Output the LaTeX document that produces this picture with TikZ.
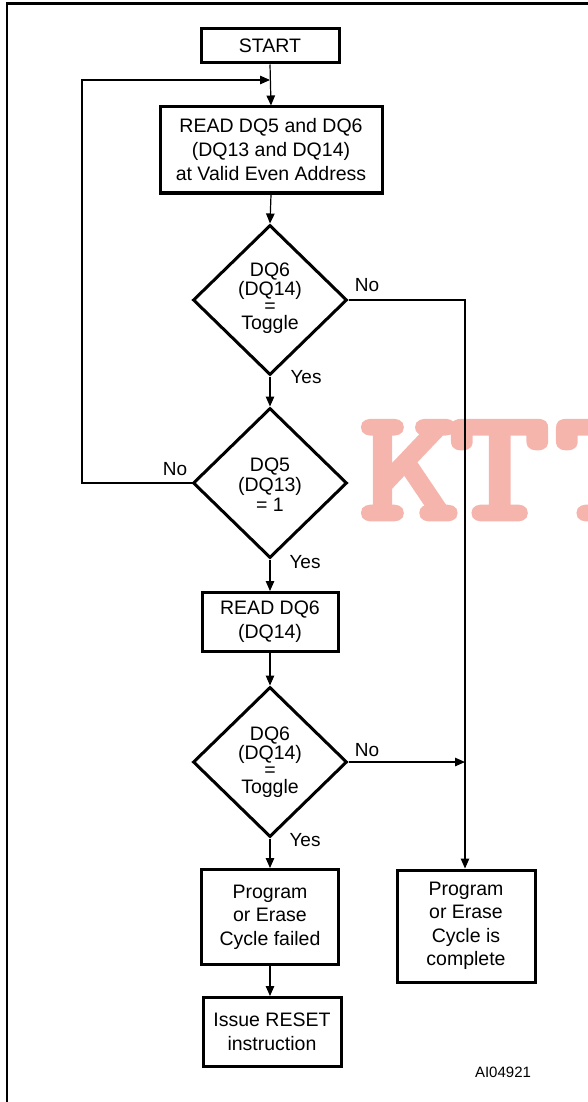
\documentclass[tikz,border=0pt]{standalone}
\usepackage{fontspec}
\setmainfont{Liberation Sans}
\newfontfamily\wmfont{lmmonolt10-bold.otf}[FakeBold=3]
\usetikzlibrary{shapes.geometric,arrows.meta}
\definecolor{wmpink}{HTML}{F5B5AD}
\tikzset{
  boxnode/.style={draw,line width=3pt,align=center,inner sep=0pt,font=\fontsize{19.5}{24}\selectfont},
  decnode/.style={draw,diamond,line width=3pt,inner sep=0pt,minimum width=154pt,minimum height=150pt},
  dectext/.style={align=center,inner sep=0pt,font=\fontsize{19.5}{17}\selectfont},
  conn/.style={line width=1.2pt},
  arr/.style={conn,-{Triangle[length=10pt,width=8.5pt]}},
  lbl/.style={inner sep=0pt,font=\fontsize{19}{22}\selectfont},
  wmark/.style={anchor=base west,inner sep=0pt,text=wmpink,xscale=1.2,transform shape,font=\wmfont\fontsize{160}{160}\selectfont},
}
\begin{document}
\begin{tikzpicture}[x=1pt,y=-1pt]
\useasboundingbox (0,0) rectangle (588,1102);
% watermark
\begin{scope}
\clip (0,0) rectangle (588,1102);
\node[wmark] (wmk) at (359,519) {K};
\node[wmark] (wmt) at (449,519) {T};
\node[wmark] (wmt2) at (554,519) {T};
\end{scope}
% frame
\draw[line width=2.5pt] (7,1110) -- (7,3.5) -- (600,3.5);
% nodes
\node[boxnode,minimum width=138pt,minimum height=34pt] (start) at (270,46) {START};
\node[boxnode,minimum width=222pt,minimum height=86pt] (read1) at (271,150) {READ DQ5 and DQ6\\(DQ13 and DQ14)\\at Valid Even Address};
\node[decnode] (d1) at (270,300) {};
\node[dectext] (t1) at (270,298) {DQ6\\(DQ14)\\=\\Toggle};
\node[decnode] (d2) at (270,483) {};
\node[dectext,font=\fontsize{19.5}{20}\selectfont] (t2) at (270,485) {DQ5\\(DQ13)\\= 1};
\node[boxnode,minimum width=136pt,minimum height=59pt] (read2) at (270,622) {READ DQ6\\(DQ14)};
\node[decnode] (d3) at (270,762) {};
\node[dectext] (t3) at (270,762) {DQ6\\(DQ14)\\=\\Toggle};
\node[boxnode,minimum width=137pt,minimum height=95pt,font=\fontsize{19.5}{23.5}\selectfont] (fail) at (270,917) {Program\\or Erase\\Cycle failed};
\node[boxnode,minimum width=138pt,minimum height=112pt,font=\fontsize{19.5}{23.5}\selectfont] (done) at (466,926) {Program\\or Erase\\Cycle is\\complete};
\node[boxnode,minimum width=138pt,minimum height=69pt,font=\fontsize{19.5}{23.5}\selectfont] (reset) at (272,1032) {Issue RESET\\instruction};
\node[inner sep=0pt,font=\fontsize{15}{18}\selectfont] (code) at (503,1072) {AI04921};
% labels
\node[lbl] (n1) at (367,285) {No};
\node[lbl] (y1) at (306,377) {Yes};
\node[lbl] (n2) at (175,469) {No};
\node[lbl] (y2) at (305,562) {Yes};
\node[lbl] (n3) at (367,750) {No};
\node[lbl] (y3) at (305,840) {Yes};
% coordinates
\coordinate (loopL) at (82,80);
\coordinate (loopR) at (270,80);
\coordinate (rtop) at (465,300);
\coordinate (rmid) at (465,762);
% connectors
\draw[arr] (start.south) -- (read1.north);
\draw[arr] (d2.west) -| (loopL) -- (loopR);
\draw[arr] (read1.south) -- (d1.north);
\draw[arr] (d1.south) -- (d2.north);
\draw[arr] (d1.east) -- (rtop) -- (rtop |- done.north);
\draw[arr] (d2.south) -- (read2.north);
\draw[arr] (read2.south) -- (d3.north);
\draw[arr] (d3.east) -- (rmid);
\draw[arr] (d3.south) -- (fail.north);
\draw[arr] (fail.south) -- (fail.south |- reset.north);
\end{tikzpicture}
\end{document}
